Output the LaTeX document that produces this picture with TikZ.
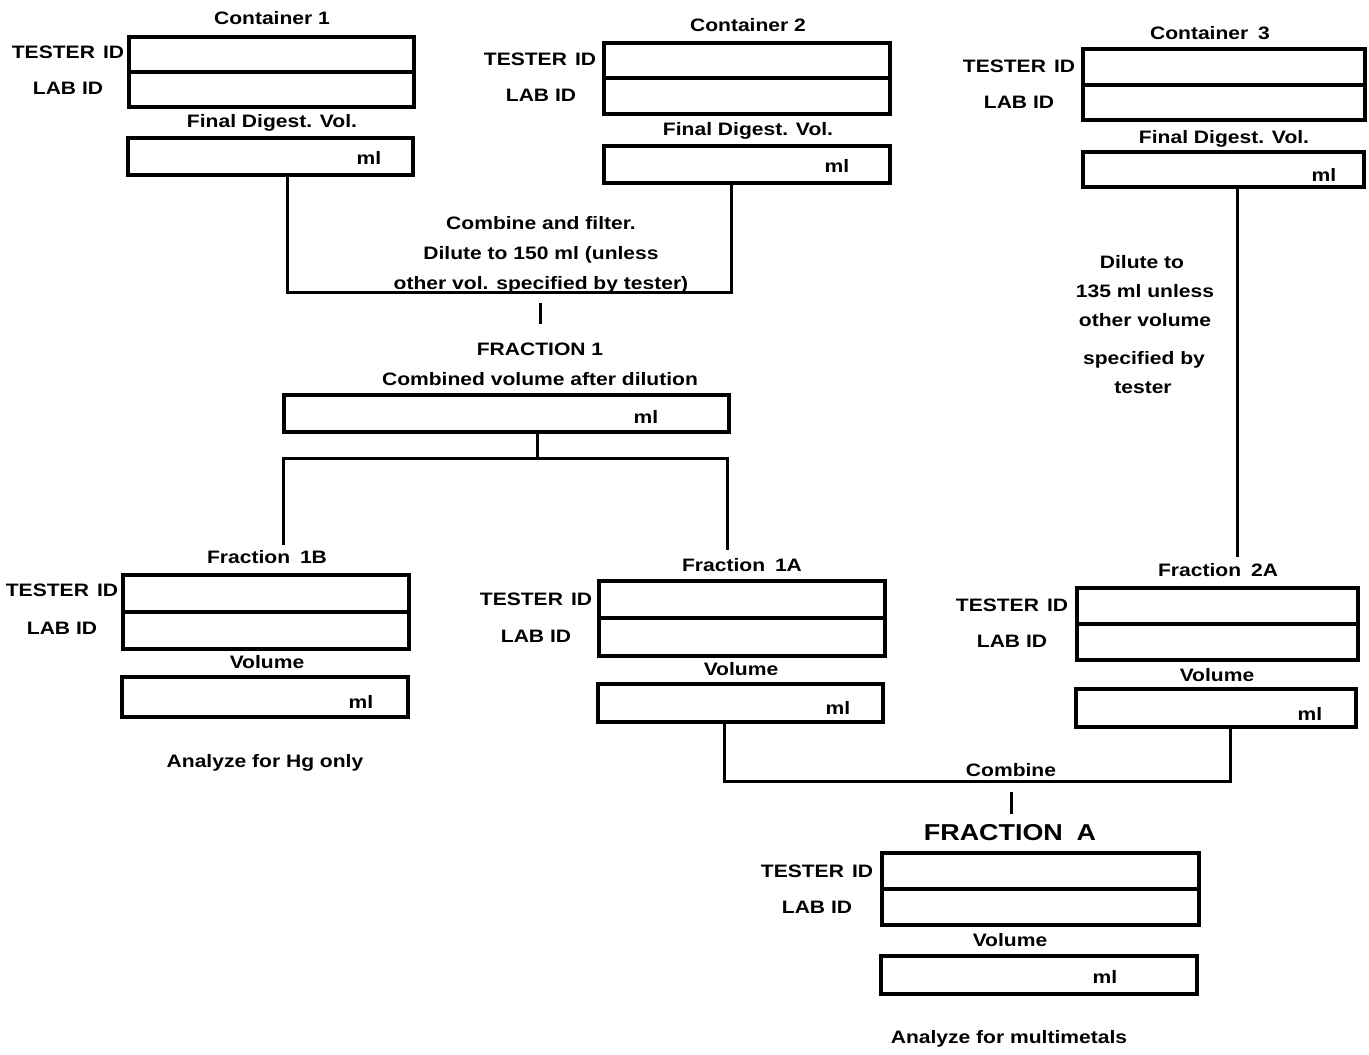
\documentclass[tikz,border=0pt]{standalone}
\usepackage{fontspec}
\setmainfont{Liberation Sans}[FakeStretch=1.17]
\begin{document}
\begin{tikzpicture}[x=1pt,y=-1pt,
  field/.style={draw, line width=3.4pt, inner sep=0pt, outer sep=0pt, anchor=north west},
  lbl/.style={font=\fontsize{18}{20}\selectfont\bfseries, inner sep=0pt, anchor=base},
  biglbl/.style={font=\fontsize{23}{26}\selectfont\bfseries, inner sep=0pt, anchor=base},
  conn/.style={draw, line width=3pt, line cap=rect}]
\useasboundingbox[fill=white] (0,0) rectangle (1369,1055);

% ---------- Container 1 ----------
\node[lbl] (c1title) at (272,24) {Container 1};
\node[field, minimum width=285pt, minimum height=35pt] (c1t) at (129,37) {};
\node[field, minimum width=285pt, minimum height=35pt] (c1l) at (129,72) {};
\node[lbl] (c1tl) at (68,58) {TESTER\hspace{0.45em}ID};
\node[lbl] (c1ll) at (68,94) {LAB ID};
\node[lbl] (c1fd) at (272,127) {Final Digest. Vol.};
\node[field, minimum width=285pt, minimum height=37pt] (c1v) at (128,138) {};
\node[lbl] (c1ml) at (369,164) {ml};

% ---------- Container 2 ----------
\node[lbl] (c2title) at (748,31) {Container 2};
\node[field, minimum width=286pt, minimum height=35pt] (c2t) at (604,43) {};
\node[field, minimum width=286pt, minimum height=36pt] (c2l) at (604,78) {};
\node[lbl] (c2tl) at (540,65) {TESTER\hspace{0.45em}ID};
\node[lbl] (c2ll) at (541,101) {LAB ID};
\node[lbl] (c2fd) at (748,135) {Final Digest. Vol.};
\node[field, minimum width=286pt, minimum height=37pt] (c2v) at (604,146) {};
\node[lbl] (c2ml) at (837,172) {ml};

% ---------- Container 3 ----------
\node[lbl] (c3title) at (1210,39) {Container\hspace{0.55em}3};
\node[field, minimum width=282pt, minimum height=36pt] (c3t) at (1083,49) {};
\node[field, minimum width=282pt, minimum height=35pt] (c3l) at (1083,85) {};
\node[lbl] (c3tl) at (1019,72) {TESTER\hspace{0.45em}ID};
\node[lbl] (c3ll) at (1019,108) {LAB ID};
\node[lbl] (c3fd) at (1224,143) {Final Digest. Vol.};
\node[field, minimum width=281pt, minimum height=35pt] (c3v) at (1083,152) {};
\node[lbl] (c3ml) at (1324,181) {ml};

% ---------- combining containers 1 and 2 ----------
\node[lbl] (cf1) at (541,229) {Combine and filter.};
\node[lbl] (cf2) at (541,259) {Dilute to 150 ml (unless};
\node[lbl] (cf3) at (541,289) {other vol. specified by tester)};
\coordinate (j1L) at (287,292);
\coordinate (j1R) at (731,292);
\draw[conn] (c1v.south -| j1L) -- (j1L) -- (j1R) -- (c2v.south -| j1R);
\coordinate (t1a) at (540,304);
\coordinate (t1b) at (540,322);
\draw[conn] (t1a) -- (t1b);

% ---------- Fraction 1 ----------
\node[lbl] (f1title) at (540,355) {FRACTION 1};
\node[lbl] (f1sub) at (540,385) {Combined volume after dilution};
\node[field, minimum width=445pt, minimum height=37pt] (f1v) at (284,395) {};
\node[lbl] (f1ml) at (646,423) {ml};

% split of fraction 1
\coordinate (b1) at (537,458);
\coordinate (b1L) at (283,458);
\coordinate (b1R) at (727,458);
\coordinate (b1Le) at (283,543);
\coordinate (b1Re) at (727,548);
\draw[conn] (f1v.south -| b1) -- (b1);
\draw[conn] (b1Le) -- (b1L) -- (b1R) -- (b1Re);

% ---------- dilution of container 3 ----------
\coordinate (c3x) at (1237,400);
\coordinate (c3e) at (1237,555);
\draw[conn] (c3v.south -| c3x) -- (c3e);
\node[lbl] (d1) at (1142,268) {Dilute to};
\node[lbl] (d2) at (1145,297) {135 ml unless};
\node[lbl] (d3) at (1145,326) {other volume};
\node[lbl] (d4) at (1144,364) {specified by};
\node[lbl] (d5) at (1143,393) {tester};

% ---------- Fraction 1B ----------
\node[lbl] (fbtitle) at (267,563) {Fraction\hspace{0.55em}1B};
\node[field, minimum width=286pt, minimum height=37pt] (fbt) at (123,575) {};
\node[field, minimum width=286pt, minimum height=37pt] (fbl) at (123,612) {};
\node[lbl] (fbtl) at (62,596) {TESTER\hspace{0.45em}ID};
\node[lbl] (fbll) at (62,634) {LAB ID};
\node[lbl] (fbvl) at (267,668) {Volume};
\node[field, minimum width=286pt, minimum height=40pt] (fbv) at (122,677) {};
\node[lbl] (fbml) at (361,708) {ml};
\node[lbl] (fbnote) at (265,767) {Analyze for Hg only};

% ---------- Fraction 1A ----------
\node[lbl] (fatitle) at (742,571) {Fraction\hspace{0.55em}1A};
\node[field, minimum width=286pt, minimum height=37pt] (fat) at (599,581) {};
\node[field, minimum width=286pt, minimum height=38pt] (fal) at (599,618) {};
\node[lbl] (fatl) at (536,605) {TESTER\hspace{0.45em}ID};
\node[lbl] (fall) at (536,642) {LAB ID};
\node[lbl] (favl) at (741,675) {Volume};
\node[field, minimum width=285pt, minimum height=38pt] (fav) at (598,684) {};
\node[lbl] (faml) at (838,714) {ml};

% ---------- Fraction 2A ----------
\node[lbl] (f2title) at (1218,576) {Fraction\hspace{0.55em}2A};
\node[field, minimum width=281pt, minimum height=36pt] (f2t) at (1077,588) {};
\node[field, minimum width=281pt, minimum height=36pt] (f2l) at (1077,624) {};
\node[lbl] (f2tl) at (1012,611) {TESTER\hspace{0.45em}ID};
\node[lbl] (f2ll) at (1012,647) {LAB ID};
\node[lbl] (f2vl) at (1217,681) {Volume};
\node[field, minimum width=280pt, minimum height=38pt] (f2v) at (1076,689) {};
\node[lbl] (f2ml) at (1310,720) {ml};

% ---------- combining 1A and 2A ----------
\coordinate (k1L) at (724,781);
\coordinate (k1R) at (1230,781);
\draw[conn] (fav.south -| k1L) -- (k1L) -- (k1R) -- (f2v.south -| k1R);
\node[lbl] (comb) at (1011,776) {Combine};
\coordinate (t2a) at (1011,793);
\coordinate (t2b) at (1011,812);
\draw[conn] (t2a) -- (t2b);

% ---------- Fraction A ----------
\node[biglbl] (fAtitle) at (1010,840) {FRACTION\hspace{0.6em}A};
\node[field, minimum width=317pt, minimum height=36pt] (fAt) at (882,853) {};
\node[field, minimum width=317pt, minimum height=36pt] (fAl) at (882,889) {};
\node[lbl] (fAtl) at (817,877) {TESTER\hspace{0.45em}ID};
\node[lbl] (fAll) at (817,913) {LAB ID};
\node[lbl] (fAvl) at (1010,946) {Volume};
\node[field, minimum width=316pt, minimum height=38pt] (fAv) at (881,956) {};
\node[lbl] (fAml) at (1105,983) {ml};
\node[lbl] (fAnote) at (1009,1043) {Analyze for multimetals};
\end{tikzpicture}
\end{document}
